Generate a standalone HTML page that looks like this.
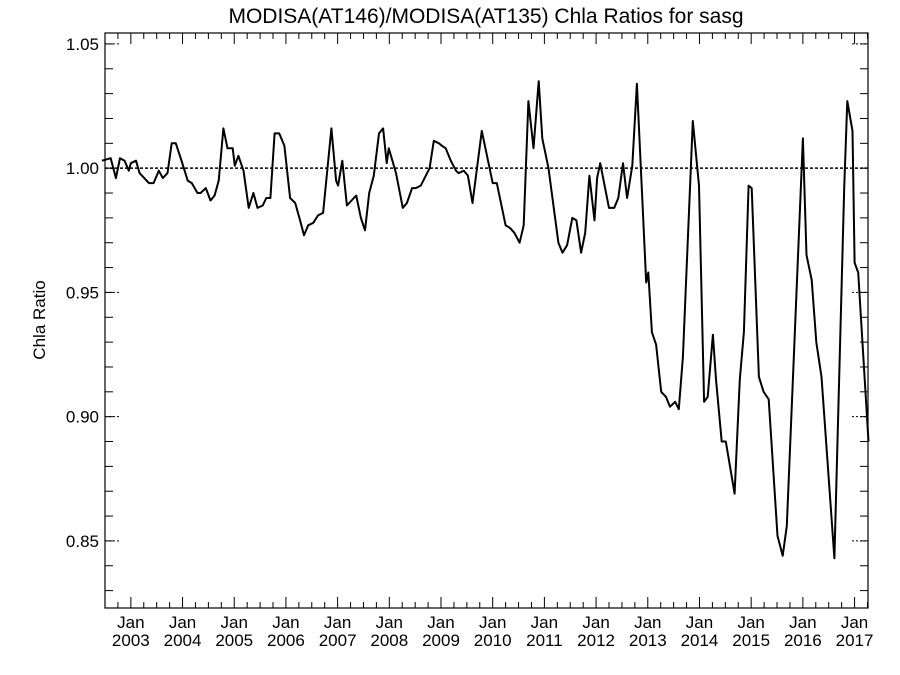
<!DOCTYPE html>
<html><head><meta charset="utf-8">
<style>
html,body{margin:0;padding:0;background:#fff;}
svg{display:block;font-family:"Liberation Sans",sans-serif;}
</style></head>
<body>
<svg id="chart" width="900" height="675" viewBox="0 0 900 675">
<text x="486" y="23" font-size="21" text-anchor="middle">MODISA(AT146)/MODISA(AT135)  Chla Ratios for sasg</text>
<text x="45" y="320" font-size="17" text-anchor="middle" transform="rotate(-90 45 320)">Chla Ratio</text>
<g id="axes"></g>
<g id="series"></g>
</svg>
<script>
const times = [2002.44,2002.61,2002.71,2002.79,2002.88,2002.96,2003.00,2003.10,2003.17,2003.35,2003.44,2003.54,2003.62,2003.71,2003.79,2003.87,2003.98,2004.10,2004.18,2004.29,2004.35,2004.45,2004.54,2004.62,2004.70,2004.79,2004.87,2004.97,2005.01,2005.08,2005.18,2005.28,2005.37,2005.45,2005.55,2005.62,2005.70,2005.78,2005.87,2005.97,2006.08,2006.18,2006.26,2006.35,2006.43,2006.53,2006.62,2006.72,2006.88,2006.97,2007.01,2007.09,2007.18,2007.36,2007.45,2007.53,2007.61,2007.70,2007.80,2007.88,2007.95,2007.99,2008.13,2008.26,2008.34,2008.44,2008.51,2008.61,2008.78,2008.86,2008.96,2009.02,2009.09,2009.19,2009.29,2009.34,2009.44,2009.52,2009.61,2009.79,2010.00,2010.08,2010.25,2010.33,2010.42,2010.52,2010.60,2010.69,2010.79,2010.89,2010.96,2011.08,2011.27,2011.35,2011.44,2011.54,2011.62,2011.71,2011.79,2011.87,2011.97,2012.02,2012.08,2012.25,2012.35,2012.43,2012.52,2012.60,2012.70,2012.79,2012.97,2013.01,2013.08,2013.16,2013.26,2013.35,2013.43,2013.53,2013.60,2013.68,2013.87,2013.99,2014.09,2014.16,2014.26,2014.32,2014.43,2014.51,2014.68,2014.78,2014.86,2014.95,2015.01,2015.15,2015.24,2015.34,2015.51,2015.61,2015.69,2016.00,2016.07,2016.17,2016.26,2016.36,2016.61,2016.80,2016.86,2016.96,2017.00,2017.07,2017.27];
const ratios = [1.003,1.004,0.996,1.004,1.003,0.999,1.002,1.003,0.998,0.994,0.994,0.999,0.996,0.998,1.010,1.010,1.003,0.995,0.994,0.990,0.990,0.992,0.987,0.989,0.995,1.016,1.008,1.008,1.001,1.005,0.999,0.984,0.990,0.984,0.985,0.988,0.988,1.014,1.014,1.009,0.988,0.986,0.980,0.973,0.977,0.978,0.981,0.982,1.016,0.995,0.993,1.003,0.985,0.989,0.980,0.975,0.990,0.997,1.014,1.016,1.002,1.008,0.998,0.984,0.986,0.992,0.992,0.993,1.000,1.011,1.010,1.009,1.008,1.003,0.999,0.998,0.999,0.997,0.986,1.015,0.994,0.994,0.977,0.976,0.974,0.970,0.977,1.027,1.008,1.035,1.012,1.000,0.970,0.966,0.969,0.980,0.979,0.966,0.974,0.997,0.979,0.996,1.002,0.984,0.984,0.988,1.002,0.988,1.001,1.034,0.954,0.958,0.934,0.929,0.910,0.908,0.904,0.906,0.903,0.924,1.019,0.993,0.906,0.908,0.933,0.915,0.890,0.890,0.869,0.915,0.934,0.993,0.992,0.916,0.910,0.907,0.852,0.844,0.856,1.012,0.965,0.955,0.930,0.916,0.843,0.992,1.027,1.015,0.962,0.958,0.890];
const yTicks = [0.85,0.90,0.95,1.00,1.05];
const yTickLabels = ["0.85","0.90","0.95","1.00","1.05"];
const years = [2003,2004,2005,2006,2007,2008,2009,2010,2011,2012,2013,2014,2015,2016,2017];
const refValue = 1.0;

const L=105,R=868,T=33,B=608;
const X0=2002.50,X1=2017.26,Y0=0.823,Y1=1.0544;
const xs=t=>L+(t-X0)/(X1-X0)*(R-L);
const ys=v=>B-(v-Y0)/(Y1-Y0)*(B-T);
const NS="http://www.w3.org/2000/svg";
function mk(tag,attrs,parent){const e=document.createElementNS(NS,tag);for(const k in attrs)e.setAttribute(k,attrs[k]);parent.appendChild(e);return e;}
const axes=document.getElementById('axes');
const series=document.getElementById('series');

const frame=mk('rect',{x:L,y:T,width:R-L,height:B-T,fill:'none',stroke:'#000','stroke-width':1.2},axes);



// y minor ticks
for(let i=Math.ceil(Y0*100);i<=Math.floor(Y1*100);i++){
  const y=ys(i/100);
  const a=mk('line',{x1:L,x2:L+8,y1:y,y2:y,stroke:'#000','stroke-width':1},axes);
  
  
  const b=mk('line',{x1:R,x2:R-8,y1:y,y2:y,stroke:'#000','stroke-width':1},axes);
  
  
}
yTicks.forEach((v,i)=>{
  const y=ys(v);
  const a=mk('line',{x1:L,x2:L+16,y1:y,y2:y,stroke:'#000','stroke-width':1,'stroke-dasharray':'2,2'},axes);
  
  
  const b=mk('line',{x1:R-16,x2:R,y1:y,y2:y,stroke:'#000','stroke-width':1,'stroke-dasharray':'2,2'},axes);
  
  
  const t=mk('text',{x:L-6,y:y+6,'font-size':17,'text-anchor':'end'},axes);
  t.textContent=yTickLabels[i];
  
  
});
// x ticks (quarterly minor, Jan major)
for(let q=Math.ceil(X0*4);q<=Math.floor(X1*4);q++){
  const t=q/4,x=xs(t),major=(q%4===0);
  const len=major?11:6;
  const a=mk('line',{x1:x,x2:x,y1:B,y2:B-len,stroke:'#000','stroke-width':1},axes);
  
  
  const b=mk('line',{x1:x,x2:x,y1:T,y2:T+len,stroke:'#000','stroke-width':1},axes);
  
  
}
years.forEach(yr=>{
  const x=xs(yr);
  const t1=mk('text',{x:x,y:B+20,'font-size':17,'text-anchor':'middle'},axes);
  t1.textContent='Jan';
  
  
  const t2=mk('text',{x:x,y:B+38,'font-size':17,'text-anchor':'middle'},axes);
  t2.textContent=String(yr);
  
  
});
// reference line
const ref=mk('line',{x1:L,x2:R,y1:ys(refValue),y2:ys(refValue),stroke:'#000','stroke-width':1.5,'stroke-dasharray':'3,2'},series);


// series line
const pts=times.map((t,i)=>xs(t).toFixed(1)+','+ys(ratios[i]).toFixed(1)).join(' ');
const pl=mk('polyline',{points:pts,fill:'none',stroke:'#000','stroke-width':2,'stroke-linejoin':'round'},series);


</script>
</body></html>
